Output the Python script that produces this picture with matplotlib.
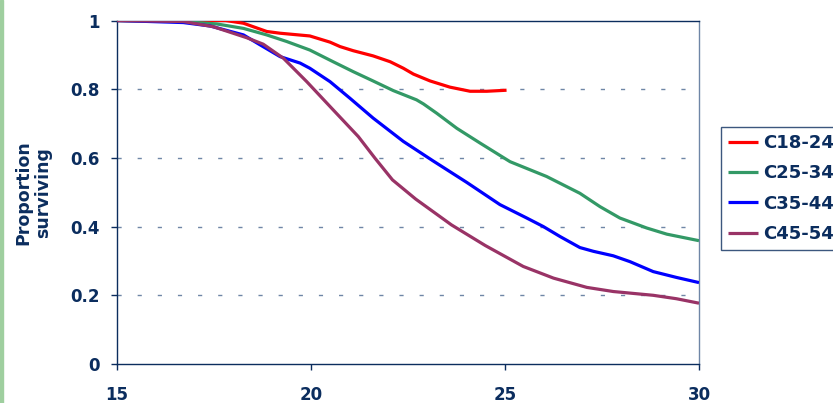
import matplotlib
matplotlib.use("Agg")
import matplotlib.pyplot as plt
from matplotlib.patches import Rectangle

# age (years) and proportion surviving
age_18_24 = [15, 17.8, 18.26, 18.86, 19.2, 19.97, 20.49, 20.75, 21.09, 21.6, 22.04,
             22.38, 22.64, 23.07, 23.58, 24.1, 24.53, 25.04]
surv_18_24 = [1.0, 1.0, 0.992, 0.968, 0.963, 0.955, 0.937, 0.924, 0.912, 0.897, 0.880,
              0.861, 0.844, 0.824, 0.806, 0.794, 0.794, 0.797]

age_25_34 = [15, 16.7, 17.57, 18.26, 18.86, 19.37, 19.97, 20.57, 21.09, 21.6, 22.12,
             22.72, 22.9, 23.24, 23.76, 24.36, 25.13, 26.07, 26.93, 27.45, 27.96,
             28.65, 29.17, 30]
surv_25_34 = [1.0, 0.997, 0.99, 0.977, 0.958, 0.939, 0.914, 0.880, 0.851, 0.824, 0.796,
              0.769, 0.757, 0.730, 0.686, 0.643, 0.589, 0.546, 0.497, 0.458, 0.425,
              0.396, 0.378, 0.359]

age_35_44 = [15, 16.71, 17.4, 18.26, 18.69, 19.2, 19.72, 19.97, 20.49, 21.0, 21.6,
             22.38, 23.15, 24.01, 24.87, 25.56, 25.99, 26.42, 26.93, 27.28, 27.79,
             28.22, 28.82, 29.42, 30]
surv_35_44 = [1.0, 0.994, 0.984, 0.958, 0.929, 0.895, 0.876, 0.861, 0.822, 0.774, 0.716,
              0.648, 0.591, 0.529, 0.464, 0.425, 0.400, 0.371, 0.339, 0.328, 0.315,
              0.298, 0.269, 0.252, 0.237]

age_45_54 = [15, 16.71, 17.48, 18.34, 18.77, 19.29, 19.89, 20.57, 21.22, 21.65, 22.1,
             22.7, 23.62, 24.49, 25.47, 26.25, 27.11, 27.79, 28.82, 29.42, 30]
surv_45_54 = [1.0, 0.997, 0.982, 0.950, 0.931, 0.890, 0.822, 0.740, 0.662, 0.599, 0.536,
              0.480, 0.405, 0.345, 0.284, 0.250, 0.223, 0.211, 0.200, 0.190, 0.177]

series = [
    ("C18-24", age_18_24, surv_18_24, "#ff0000"),
    ("C25-34", age_25_34, surv_25_34, "#339966"),
    ("C35-44", age_35_44, surv_35_44, "#0000ff"),
    ("C45-54", age_45_54, surv_45_54, "#993366"),
]

x_ticks = [15, 20, 25, 30]
y_ticks = [0, 0.2, 0.4, 0.6, 0.8, 1]
y_tick_labels = ["0", "0.2", "0.4", "0.6", "0.8", "1"]

navy = "#0b2d5e"
plt.rcParams["font.family"] = ["DejaVu Sans"]

fig = plt.figure(figsize=(8.33, 4.03), dpi=100)
fig.patches.append(Rectangle((0, 0), 3 / 833, 1, transform=fig.transFigure,
                             color="#9fcf9f", zorder=0))
ax = fig.add_axes([117 / 833, 39 / 403, 582 / 833, 343.5 / 403])

for y in y_ticks[1:-1]:
    ax.axhline(y, color="#6f86a6", lw=1.0, dashes=(3, 11.5), zorder=1)

for name, xs, ys, col in series:
    ax.plot(xs, ys, color=col, lw=2.3, label=name, zorder=3,
            solid_capstyle="butt", solid_joinstyle="round")

ax.set_xlim(15, 30)
ax.set_ylim(0, 1)
ax.set_xticks(x_ticks)
ax.set_yticks(y_ticks)
ax.set_yticklabels(y_tick_labels)

for side in ["left", "bottom", "top"]:
    ax.spines[side].set_color(navy)
    ax.spines[side].set_linewidth(1.0)
ax.spines["right"].set_color("#6f86a6")
ax.spines["right"].set_linewidth(1.0)

ax.tick_params(axis="x", direction="out", length=4.5, width=1, color=navy,
               labelcolor=navy, labelsize=12, pad=11)
ax.tick_params(axis="y", direction="out", length=4.5, width=1, color=navy,
               labelcolor=navy, labelsize=12, pad=8)
for lab in ax.get_xticklabels() + ax.get_yticklabels():
    lab.set_fontweight("bold")

fig.text(33 / 833, 1 - 193 / 403, "Proportion\nsurviving", rotation=90,
         ha="center", va="center", color=navy, fontsize=12.5,
         fontweight="bold", linespacing=1.1)

leg = fig.legend(loc="upper left", bbox_to_anchor=(721 / 833, 1 - 127 / 403),
                 borderaxespad=0, frameon=True, fancybox=False,
                 handlelength=1.65, handletextpad=0.28, labelspacing=0.68,
                 borderpad=0.4, prop={"size": 13, "weight": "bold"})
leg.get_frame().set_edgecolor(navy)
leg.get_frame().set_linewidth(1.0)
for t in leg.get_texts():
    t.set_color(navy)
for h in leg.get_lines():
    h.set_linewidth(2.3)

fig.savefig("out.png", dpi=100)
